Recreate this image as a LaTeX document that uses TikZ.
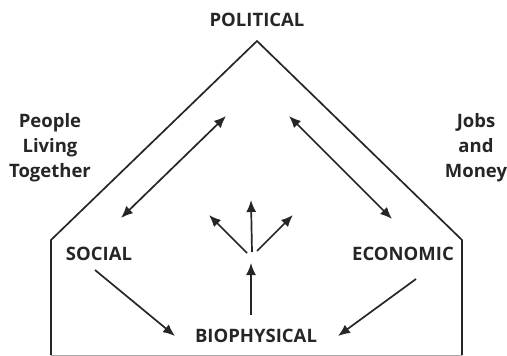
\documentclass[tikz,border=0pt]{standalone}
\usepackage{fontspec}
\setmainfont{Open Sans}
\usetikzlibrary{arrows.meta}

\begin{document}
\begin{tikzpicture}[
	x=1pt, y=-1pt,
	label/.style={font=\fontsize{18.5}{25}\selectfont\bfseries, align=center, inner sep=0pt, text=black!85},
	house/.style={line width=1.7pt, draw=black!85, line join=miter},
	arrow/.style={-{Latex[length=12pt,width=10pt]}, line width=1.7pt, draw=black!85},
	twoway/.style={{Latex[length=12pt,width=10pt]}-{Latex[length=12pt,width=10pt]}, line width=1.7pt, draw=black!85}
]
\useasboundingbox (0,0) rectangle (507,356);
% outline of the house
\coordinate (apex) at (257,41);
\coordinate (eaveL) at (51,240);
\coordinate (eaveR) at (462,240);
\coordinate (baseL) at (51,355);
\coordinate (baseR) at (462,355);
\draw [house] (baseR) -- (eaveR) -- (apex) -- (eaveL) -- (baseL);
\draw [line width=1pt, draw=black!35] (baseL) -- (baseR);
% labels
\node (political) [label] at (257,20) {POLITICAL};
\node (people) [label] at (50,148) {People\\Living\\Together};
\node (jobs) [label] at (476,148) {Jobs\\and\\Money};
\node (social) [label] at (99,254) {SOCIAL};
\node (economic) [label] at (403,254) {ECONOMIC};
\node (bio) [label] at (256,336) {BIOPHYSICAL};
% arrow ends
\coordinate (socUp) at (121,218);
\coordinate (polL) at (226,116);
\coordinate (polR) at (289,116);
\coordinate (ecoUp) at (392,219);
\coordinate (socDn) at (95,270);
\coordinate (bioL) at (175,336);
\coordinate (ecoDn) at (416,279);
\coordinate (bioR) at (338,336);
\coordinate (stem) at (251,315);
\coordinate (hub) at (251,263);
\coordinate (fork) at (252,252);
\coordinate (forkL) at (209,215);
\coordinate (forkU) at (251,200);
\coordinate (forkR) at (293,215);
% connectors
\draw [twoway] (socUp) -- (polL);
\draw [twoway] (polR) -- (ecoUp);
\draw [arrow] (socDn) -- (bioL);
\draw [arrow] (ecoDn) -- (bioR);
\draw [arrow] (stem) -- (hub);
\draw [arrow] (fork) ++(-5,1) coordinate (forkLs) (forkLs) -- (forkL);
\draw [arrow] (fork) -- (forkU);
\draw [arrow] (fork) ++(5,-1) coordinate (forkRs) (forkRs) -- (forkR);
\end{tikzpicture}
\end{document}
